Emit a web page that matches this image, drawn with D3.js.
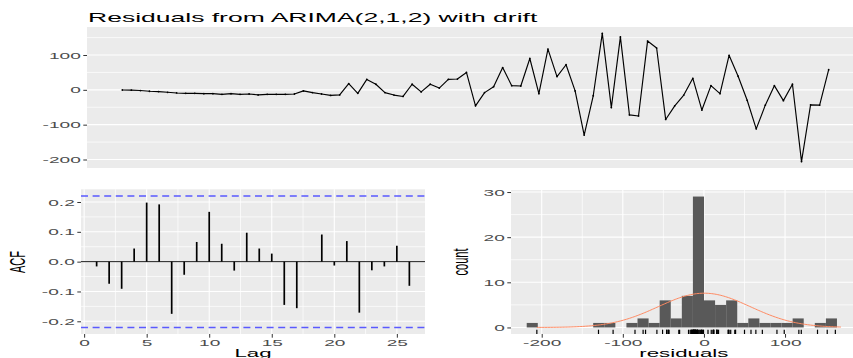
<!DOCTYPE html>
<html>
<head>
<meta charset="utf-8">
<script src="https://cdn.jsdelivr.net/npm/d3@7"></script>
<style>
  body { margin: 0; background: #ffffff; }
  svg { display: block; font-family: "Liberation Sans", Arial, sans-serif; }
</style>
</head>
<body>
<svg id="chart" width="853" height="358"></svg>
<script>
// Residual series (one value per time step)
const residuals = [
  -0.5, -1, -2, -4, -5, -7, -9, -10, -10, -11,
  -11, -13, -11, -13, -12, -14.5, -13, -13, -13, -12,
  -3, -8, -12, -16, -14.5, 18, -10, 30, 16, -8,
  -15, -19, 16, -6, 16, 5, 30, 31, 50, -46,
  -8, 9, 64, 12, 11, 90, -11, 117, 38, 72,
  -3, -130, -17, 162, -51, 152, -72, -75, 140, 120,
  -85, -46, -15, 33, -58, 12, -11, 99, 39, -30,
  -112, -44, 12, -31, 16, -206, -43, -44, 58
];

// Autocorrelations at lags 1..26
const acfLags = [1, 2, 3, 4, 5, 6, 7, 8, 9, 10, 11, 12, 13, 14, 15, 16, 17, 18, 19, 20, 21, 22, 23, 24, 25, 26];
const acfValues = [
  -0.016, -0.074, -0.091, 0.044, 0.198, 0.192, -0.175, -0.044, 0.066, 0.167,
  0.060, -0.030, 0.097, 0.044, 0.027, -0.145, -0.156, 0.001, 0.091, -0.013,
  0.069, -0.171, -0.029, -0.016, 0.053, -0.081
];

// Tick labels
const tsTicks = [-200, -100, 0, 100];
const tsMinor = [-150, -50, 50, 150];
const acfTicksY = [-0.2, -0.1, 0.0, 0.1, 0.2];
const acfMinorY = [-0.15, -0.05, 0.05, 0.15];
const acfTicksX = [0, 5, 10, 15, 20, 25];
const acfMinorX = [2.5, 7.5, 12.5, 17.5, 22.5];
const histTicksY = [0, 10, 20, 30];
const histMinorY = [5, 15, 25];
const histTicksX = [-200, -100, 0, 100];
const histMinorX = [-150, -50, 50, 150];

// Histogram binning
const binStart = -218.5;
const binWidth = 13.66;
const binCount = 28;

const svg = d3.select("#chart");
const GRID = "#ffffff", PANEL = "#ebebeb", TICKTXT = "#4d4d4d", TICK = "#333333";
const TICK_SX = 2.25, TITLE_SX = 2.08, AXTITLE_SX = 2.1, ROT_SX = 1.95;

function stretchedText(g, x, y, str, o) {
  const rot = o.rotate ? " rotate(-90)" : "";
  return g.append("text")
    .attr("transform", `translate(${x},${y}) scale(${o.sx},1)${rot}`)
    .attr("text-anchor", o.anchor || "middle")
    .attr("dy", o.dy || "0")
    .attr("font-size", o.size)
    .attr("fill", o.fill || "#000")
    .text(str);
}

function panel(g, x0, x1, y0, y1) {
  g.append("rect").attr("x", x0).attr("y", y0)
    .attr("width", x1 - x0).attr("height", y1 - y0).attr("fill", PANEL);
}
function hGrid(g, y, vals, x0, x1, w) {
  g.selectAll(null).data(vals).join("line")
    .attr("x1", x0).attr("x2", x1)
    .attr("y1", d => y(d)).attr("y2", d => y(d))
    .attr("stroke", GRID).attr("stroke-width", w);
}
function vGrid(g, x, vals, y0, y1, w) {
  g.selectAll(null).data(vals).join("line")
    .attr("y1", y0).attr("y2", y1)
    .attr("x1", d => x(d)).attr("x2", d => x(d))
    .attr("stroke", GRID).attr("stroke-width", w);
}
function leftAxis(g, y, vals, xPos, fmt) {
  const ax = g.append("g").attr("transform", `translate(${xPos},0)`)
    .call(d3.axisLeft(y).tickValues(vals).tickSize(3.7).tickPadding(0).tickFormat(fmt));
  ax.select(".domain").remove();
  ax.selectAll(".tick line").attr("stroke", TICK).attr("stroke-width", 1);
  ax.selectAll(".tick text")
    .attr("x", null).attr("dy", "0.36em")
    .attr("transform", `translate(-6.2,0) scale(${TICK_SX},1)`)
    .attr("fill", TICKTXT).attr("font-size", 8.5)
    .attr("font-family", "Liberation Sans, Arial, sans-serif");
  return ax;
}
function bottomAxis(g, x, vals, yPos, fmt) {
  const ax = g.append("g").attr("transform", `translate(0,${yPos})`)
    .call(d3.axisBottom(x).tickValues(vals).tickSize(3.7).tickPadding(0).tickFormat(fmt));
  ax.select(".domain").remove();
  ax.selectAll(".tick line").attr("stroke", TICK).attr("stroke-width", 1);
  ax.selectAll(".tick text")
    .attr("y", null).attr("dy", "0")
    .attr("transform", `translate(0,12.2) scale(${TICK_SX},1)`)
    .attr("fill", TICKTXT).attr("font-size", 8.5)
    .attr("font-family", "Liberation Sans, Arial, sans-serif");
  return ax;
}

// ---------- Top: residual time series ----------
{
  const g = svg.append("g");
  const L = 87, R = 864, T = 27, B = 168;
  const idx = residuals.map((_, i) => i + 1);
  const n = residuals.length;
  const padX = (n - 1) * 0.05;
  const x = d3.scaleLinear().domain([1 - padX, n + padX]).range([L, R]);
  const [lo, hi] = d3.extent(residuals);
  const padY = (hi - lo) * 0.05;
  const y = d3.scaleLinear().domain([lo - padY, hi + padY]).range([B, T]);

  panel(g, L, R, T, B);
  hGrid(g, y, tsMinor, L, R, 0.7);
  hGrid(g, y, tsTicks, L, R, 1.1);

  g.append("path").datum(residuals)
    .attr("d", d3.line().x((d, i) => x(idx[i])).y(d => y(d)))
    .attr("fill", "none").attr("stroke", "#000").attr("stroke-width", 1.15)
    .attr("stroke-linejoin", "round");
  g.selectAll(null).data(residuals).join("circle")
    .attr("cx", (d, i) => x(idx[i])).attr("cy", d => y(d)).attr("r", 0.9)
    .attr("fill", "#000");

  leftAxis(g, y, tsTicks, L, d => String(d));
  stretchedText(g, 88, 22, "Residuals from ARIMA(2,1,2) with drift",
    { size: 12.75, sx: TITLE_SX, anchor: "start", fill: "#000" });
}

// ---------- Bottom left: ACF ----------
{
  const g = svg.append("g");
  const L = 81, R = 425, T = 189.3, B = 334;
  const n = residuals.length;
  const ci = 1.96 / Math.sqrt(n);
  const x = d3.scaleLinear().domain([1 - 1.25, 26 + 1.25]).range([L, R]);
  const yr = Math.max(ci, d3.max(acfValues, Math.abs));
  const y = d3.scaleLinear().domain([-yr * 1.1, yr * 1.1]).range([B, T]);

  panel(g, L, R, T, B);
  hGrid(g, y, acfMinorY, L, R, 0.7);
  vGrid(g, x, acfMinorX, T, B, 0.7);
  hGrid(g, y, acfTicksY, L, R, 1.1);
  vGrid(g, x, acfTicksX, T, B, 1.1);

  g.append("line").attr("x1", L).attr("x2", R)
    .attr("y1", y(0)).attr("y2", y(0))
    .attr("stroke", "#1a1a1a").attr("stroke-width", 1);

  g.selectAll(null).data(acfValues).join("line")
    .attr("x1", (d, i) => x(acfLags[i])).attr("x2", (d, i) => x(acfLags[i]))
    .attr("y1", y(0)).attr("y2", d => y(d))
    .attr("stroke", "#000").attr("stroke-width", 1.7);

  // 95% significance bounds
  g.selectAll(null).data([ci, -ci]).join("line")
    .attr("x1", L).attr("x2", R)
    .attr("y1", d => y(d)).attr("y2", d => y(d))
    .attr("stroke", "#5a5aff").attr("stroke-width", 1.5)
    .attr("stroke-dasharray", "7,4.6");

  leftAxis(g, y, acfTicksY, L, d => d.toFixed(1));
  bottomAxis(g, x, acfTicksX, B, d => String(d));
  stretchedText(g, (L + R) / 2, 357, "Lag", { size: 10.6, sx: AXTITLE_SX, fill: "#000" });
  stretchedText(g, 17, 262, "ACF", { size: 11, sx: ROT_SX, rotate: true, dy: "0.35em", fill: "#000" });
}

// ---------- Bottom right: histogram ----------
{
  const g = svg.append("g");
  const L = 511, R = 856.6, T = 190, B = 334;
  const n = residuals.length;
  const thresholds = d3.range(binCount + 1).map(k => binStart + k * binWidth);
  const bins = d3.bin().domain([thresholds[0], thresholds[binCount]])
    .thresholds(thresholds.slice(1, -1))(residuals);

  const mean = d3.mean(residuals), sd = d3.deviation(residuals);
  const [lo, hi] = d3.extent(residuals);
  const curveHi = hi + binWidth / 2;
  const curve = d3.range(0, 201).map(i => {
    const v = lo + (curveHi - lo) * i / 200;
    const z = (v - mean) / sd;
    return [v, n * binWidth * Math.exp(-0.5 * z * z) / (sd * Math.sqrt(2 * Math.PI))];
  });

  const xLo = Math.min(thresholds[0], lo), xHi = Math.max(thresholds[binCount], curveHi);
  const padX = (xHi - xLo) * 0.05;
  const x = d3.scaleLinear().domain([xLo - padX, xHi + padX]).range([L, R]);
  const maxC = d3.max(bins, b => b.length);
  const y = d3.scaleLinear().domain([-maxC * 0.05, maxC * 1.05]).range([B, T]);

  panel(g, L, R, T, B);
  hGrid(g, y, histMinorY, L, R, 0.7);
  vGrid(g, x, histMinorX, T, B, 0.7);
  hGrid(g, y, histTicksY, L, R, 1.1);
  vGrid(g, x, histTicksX, T, B, 1.1);

  g.selectAll(null).data(bins.filter(b => b.length > 0)).join("rect")
    .attr("x", b => x(b.x0)).attr("width", b => x(b.x1) - x(b.x0))
    .attr("y", b => y(b.length)).attr("height", b => y(0) - y(b.length))
    .attr("fill", "#595959");

  g.append("path").datum(curve)
    .attr("d", d3.line().x(d => x(d[0])).y(d => y(d[1])))
    .attr("fill", "none").attr("stroke", "#ff8a62").attr("stroke-width", 1);

  g.selectAll(null).data(residuals).join("line")
    .attr("x1", d => x(d)).attr("x2", d => x(d))
    .attr("y1", B).attr("y2", B - (B - T) * 0.03)
    .attr("stroke", "#000").attr("stroke-width", 1.2);

  leftAxis(g, y, histTicksY, L, d => String(d));
  bottomAxis(g, x, histTicksX, B, d => String(d));
  stretchedText(g, (L + R) / 2, 357, "residuals", { size: 10.6, sx: AXTITLE_SX, fill: "#000" });
  stretchedText(g, 460, 262, "count", { size: 11, sx: ROT_SX, rotate: true, dy: "0.35em", fill: "#000" });
}
</script>
</body>
</html>
